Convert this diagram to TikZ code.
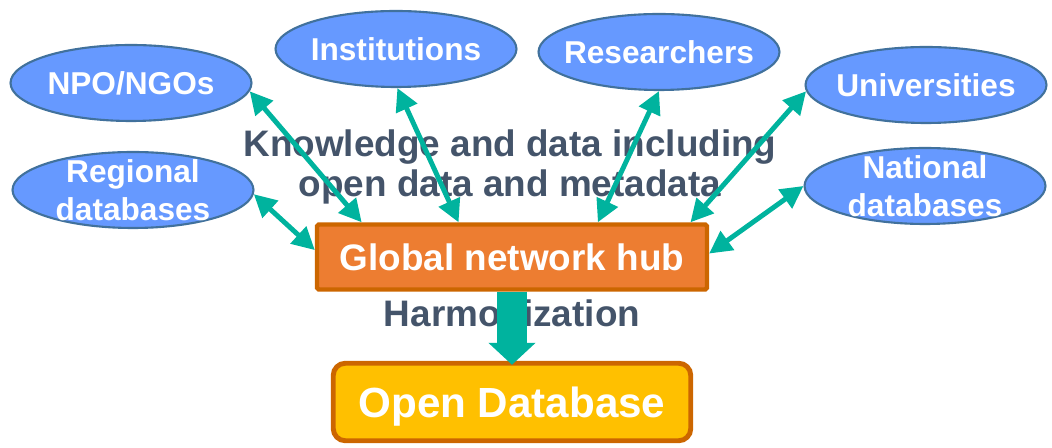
\documentclass[tikz,border=0pt]{standalone}
\usepackage{fontspec}
\setmainfont{Liberation Sans}
\usetikzlibrary{shapes.geometric}
\usetikzlibrary{arrows.meta,positioning}

\definecolor{ellblue}{HTML}{6699FF}
\definecolor{ellline}{HTML}{41719C}
\definecolor{flow}{HTML}{00B39E}
\definecolor{slate}{HTML}{44546A}
\definecolor{hubfill}{HTML}{ED7D31}
\definecolor{hubline}{HTML}{CC6600}
\definecolor{dbfill}{HTML}{FFC000}

\begin{document}
\begin{tikzpicture}[x=0.02cm, y=-0.02cm]
\tikzstyle{every node}=[font=\bfseries] %%
\tikzstyle{partner}=[ellipse, draw=ellline, line width=1.2pt, fill=ellblue,
  minimum width=4.82cm, minimum height=1.52cm, inner sep=0pt]
\tikzstyle{partnertext}=[text=white, align=center, font=\bfseries\fontsize{18}{21.5}\selectfont]
\tikzstyle{note}=[text=slate, align=center, font=\bfseries\fontsize{21}{23.2}\selectfont]
\tikzstyle{share}=[draw=flow, line width=2.8pt,
  {Triangle[length=0.45cm,width=0.45cm]}-{Triangle[length=0.45cm,width=0.45cm]}]
\useasboundingbox (0,0) rectangle (1052,448);

\node[partner, label={[partnertext]center:NPO/NGOs}] (npo) at (131,83) {};
\node[partner, label={[partnertext]center:{Regional\\databases}}] (regional) at (133,190) {};
\node[partner, label={[partnertext]center:Institutions}] (inst) at (396,49) {};
\node[partner, label={[partnertext]center:Researchers}] (res) at (659,52) {};
\node[partner, label={[partnertext]center:Universities}] (univ) at (926,85) {};
\node[partner, label={[partnertext]center:{National\\databases}}] (natl) at (925,186) {};

\node[note] (know) at (510,167) {Knowledge and data including\\open data and metadata};
\node[note] (harm) at (512,313) {Harmonization};

\node[draw=hubline, fill=hubfill, line width=2.5pt, rounded corners=1pt,
  minimum width=7.8cm, minimum height=1.3cm, text=white, text depth=0pt,
  font=\bfseries\fontsize{21}{25}\selectfont] (hub) at (512,257) {Global network hub};
\node[draw=hubline, fill=dbfill, line width=2.8pt, rounded corners=0.24cm,
  minimum width=7.15cm, minimum height=1.55cm, text=white, text depth=0pt,
  font=\bfseries\fontsize{24}{28}\selectfont] (odb) at (512,402) {Open Database};

\draw[share] (npo.-4) -- (hub.167);
\draw[share] (regional.-2) -- (hub.178.4);
\draw[share] (inst.-88) -- (hub.147.3);
\draw[share] (res.-90) -- (hub.22.2);
\draw[share] (univ.183) -- (hub.11.3);
\draw[share] (natl.180) -- (hub.1.6);
\draw[draw=flow, line width=0.6cm, -{Triangle[length=0.44cm,width=0.92cm]},
  shorten >=-0.08cm] (hub.south) -- (odb.north);
\end{tikzpicture}
\end{document}
